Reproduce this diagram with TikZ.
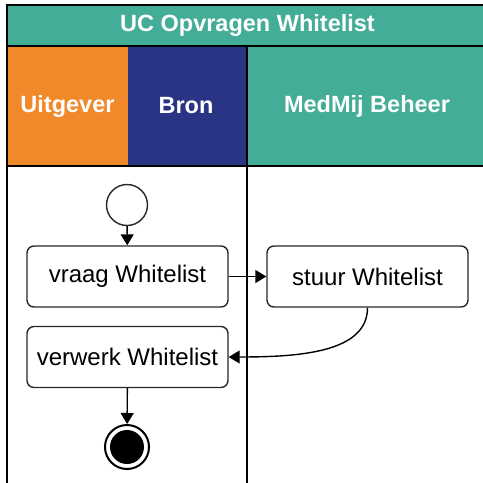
\documentclass[tikz,border=0pt]{standalone}
\usepackage{fontspec}
\setmainfont{Liberation Sans}
\usetikzlibrary{arrows.meta}
\definecolor{teal}{RGB}{68,173,151}
\definecolor{orng}{RGB}{239,137,42}
\definecolor{navy}{RGB}{42,52,132}
\definecolor{boxline}{RGB}{40,40,40}
\tikzset{
  lane/.style={draw=black, line width=1.4pt},
  hdr/.style={font=\bfseries\fontsize{23.5}{26}\selectfont, text=white},
  act/.style={draw=boxline, line width=1.4pt, rounded corners=7pt, fill=white,
    minimum width=201pt, minimum height=61pt, inner sep=0pt,
    font=\fontsize{24}{27}\selectfont},
  flow/.style={line width=1.4pt, -{Triangle[length=11pt,width=13pt]}},
}
\begin{document}
\begin{tikzpicture}[x=1pt,y=-1pt]
\useasboundingbox (0,0) rectangle (483,483);
\begin{scope}
\clip (0,0) rectangle (483,483);
% title band
\fill[teal] (7,5) rectangle (490,46);
% header row
\fill[orng] (7,46) rectangle (128,166);
\fill[navy] (128,46) rectangle (247,166);
\fill[teal] (247,46) rectangle (490,166);
% lines
\draw[lane] (7,490) -- (7,5) -- (490,5);
\draw[lane] (7,46) -- (490,46);
\draw[lane] (7,166) -- (490,166);
\draw[lane] (247,46) -- (247,490);
\end{scope}
\node[hdr] (title) at (247.5,25.5) {UC Opvragen Whitelist};
\node[hdr] (uit) at (67.5,106) {Uitgever};
\node[hdr] (bron) at (186,106) {Bron};
\node[hdr] (med) at (367,106) {MedMij Beheer};
% nodes
\node[circle, draw=boxline, line width=1.4pt, fill=white, minimum size=41pt, inner sep=0pt] (start) at (127,205) {};
\node[act] (vraag) at (127.5,276.5) {vraag Whitelist};
\node[act] (stuur) at (367.5,276.5) {stuur Whitelist};
\node[act] (verwerk) at (127.5,357) {verwerk Whitelist};
\node[circle, draw=black, line width=2pt, fill=white, minimum size=44pt, inner sep=0pt] (end) at (127,447) {};
\node[circle, fill=black, minimum size=34pt, inner sep=0pt] (endin) at (end) {};
% connectors
\draw[flow] (start) -- (vraag);
\draw[flow] (vraag) -- (stuur);
\draw[flow] (stuur.south) .. controls +(0,45) and +(70,0) .. (verwerk.east);
\draw[flow] (verwerk) -- (end);
\end{tikzpicture}
\end{document}
